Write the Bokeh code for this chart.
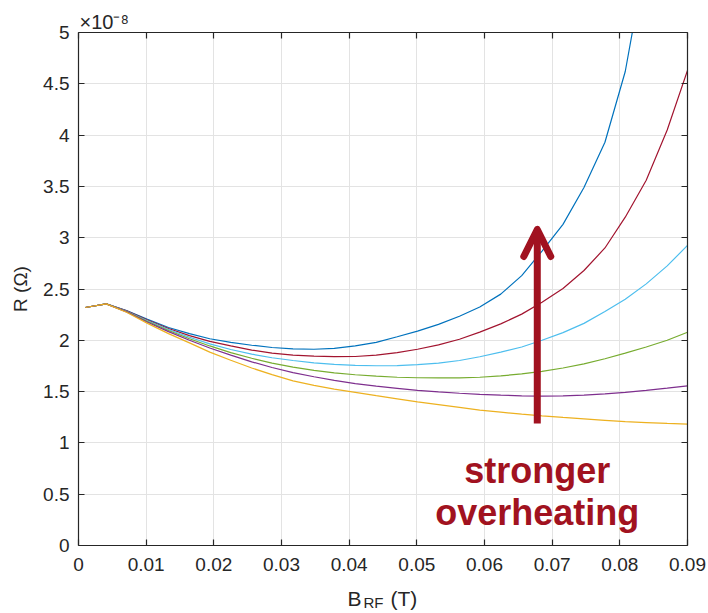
from bokeh.plotting import figure
from bokeh.layouts import column
from bokeh.models import Range1d, FixedTicker, LinearAxis, Label, Arrow, OpenHead, Title
from bokeh.core.properties import value
from bokeh.embed import file_html
from bokeh.resources import INLINE

# ---------------- data (R in units of 1e-8 Ohm) ----------------
b_rf = [0.0010, 0.0041, 0.0071, 0.0102, 0.0133, 0.0164, 0.0194, 0.0225, 0.0256, 0.0286,
        0.0317, 0.0348, 0.0378, 0.0409, 0.0440, 0.0471, 0.0501, 0.0532, 0.0563, 0.0593,
        0.0624, 0.0655, 0.0685, 0.0716, 0.0747, 0.0778, 0.0808, 0.0839, 0.0870, 0.0900]

r_blue = [2.32, 2.355, 2.29, 2.205, 2.125, 2.065, 2.015, 1.98, 1.952, 1.93,
          1.917, 1.913, 1.922, 1.945, 1.98, 2.035, 2.09, 2.155, 2.235, 2.325,
          2.45, 2.63, 2.87, 3.13, 3.49, 3.93, 4.62, 5.75, 7.0, 8.6]
r_red = [2.32, 2.355, 2.287, 2.198, 2.115, 2.045, 1.99, 1.945, 1.905, 1.875,
         1.856, 1.845, 1.84, 1.842, 1.855, 1.88, 1.913, 1.955, 2.01, 2.08,
         2.16, 2.255, 2.37, 2.505, 2.68, 2.9, 3.2, 3.56, 4.05, 4.63]
r_cyan = [2.32, 2.355, 2.283, 2.19, 2.105, 2.03, 1.965, 1.91, 1.865, 1.83,
          1.803, 1.78, 1.765, 1.756, 1.752, 1.753, 1.762, 1.778, 1.803, 1.84,
          1.885, 1.935, 2.0, 2.075, 2.165, 2.28, 2.4, 2.55, 2.725, 2.925]
r_green = [2.32, 2.355, 2.28, 2.183, 2.095, 2.015, 1.945, 1.88, 1.825, 1.778,
           1.738, 1.707, 1.682, 1.664, 1.65, 1.64, 1.635, 1.633, 1.634, 1.64,
           1.653, 1.672, 1.698, 1.73, 1.77, 1.82, 1.875, 1.935, 2.0, 2.078]
r_purple = [2.32, 2.355, 2.277, 2.176, 2.085, 2.0, 1.925, 1.855, 1.79, 1.735,
            1.685, 1.645, 1.61, 1.578, 1.553, 1.532, 1.512, 1.497, 1.484, 1.473,
            1.465, 1.459, 1.456, 1.458, 1.465, 1.477, 1.493, 1.512, 1.533, 1.555]
r_yellow = [2.32, 2.355, 2.273, 2.165, 2.065, 1.975, 1.885, 1.805, 1.73, 1.665,
            1.605, 1.56, 1.525, 1.493, 1.46, 1.43, 1.40, 1.373, 1.346, 1.32,
            1.30, 1.28, 1.263, 1.248, 1.234, 1.22, 1.207, 1.198, 1.19, 1.183]

series = [r_blue, r_red, r_cyan, r_green, r_purple, r_yellow]
colors = ["#0072BD", "#A2142F", "#4DBEEE", "#77AC30", "#7E2F8E", "#EDB120"]

x_ticks = [0, 0.01, 0.02, 0.03, 0.04, 0.05, 0.06, 0.07, 0.08, 0.09]
x_tick_labels = ["0", "0.01", "0.02", "0.03", "0.04", "0.05", "0.06", "0.07", "0.08", "0.09"]
y_ticks = [0, 0.5, 1, 1.5, 2, 2.5, 3, 3.5, 4, 4.5, 5]
y_tick_labels = ["0", "0.5", "1", "1.5", "2", "2.5", "3", "3.5", "4", "4.5", "5"]

y_label = "R (Ω)"
x_label_parts = ["B", "RF", "(T)"]          # B_RF (T)
exponent_text = "×10⁻⁸"
annotation_lines = ["stronger", "overheating"]
arrow_x = 0.0678
arrow_y0 = 1.19
arrow_y1 = 3.08

# ---------------- styles ----------------
FONT = "Liberation Sans"
AX = "#262626"
DARKRED = "#A11220"
GRID = "#E3E3E3"
W = 708
BL, BR = 78, 21
BOT_H = 25
MAIN_H = 613 - BOT_H

p = figure(width=W, height=MAIN_H, output_backend="svg", toolbar_location=None,
           x_range=Range1d(0, 0.09), y_range=Range1d(0, 5),
           min_border_left=BL, min_border_right=BR, min_border_top=32, min_border_bottom=43)
p.outline_line_color = None

for ys, c in zip(series, colors):
    p.line(b_rf, ys, line_color=c, line_width=1.2)


def style_axis(ax, ticks, labels, show_labels=True):
    ax.ticker = FixedTicker(ticks=ticks)
    ax.major_label_overrides = {t: (l if show_labels else "") for t, l in zip(ticks, labels)}
    ax.axis_line_color = AX
    ax.axis_line_width = 1.2
    ax.major_tick_line_color = AX
    ax.major_tick_line_width = 1.2
    ax.major_tick_in = 6
    ax.major_tick_out = 0
    ax.minor_tick_line_color = None
    ax.major_label_text_font = FONT
    ax.major_label_text_font_size = "19px"
    ax.major_label_text_color = AX
    if not show_labels:
        ax.major_label_standoff = 0


style_axis(p.xaxis[0], x_ticks, x_tick_labels)
p.xaxis[0].major_label_standoff = 12
style_axis(p.yaxis[0], y_ticks, y_tick_labels)
p.yaxis[0].major_label_standoff = 9
p.yaxis[0].axis_label = y_label
p.yaxis[0].axis_label_text_font = FONT
p.yaxis[0].axis_label_text_font_size = "19px"
p.yaxis[0].axis_label_text_font_style = "normal"
p.yaxis[0].axis_label_text_color = AX
p.yaxis[0].axis_label_standoff = 9

top_ax = LinearAxis()
style_axis(top_ax, x_ticks, x_tick_labels, show_labels=False)
p.add_layout(top_ax, "above")
right_ax = LinearAxis()
style_axis(right_ax, y_ticks, y_tick_labels, show_labels=False)
p.add_layout(right_ax, "right")

# exponent of the y axis, shown above its top
p.add_layout(Title(text=exponent_text, align="left", offset=1, standoff=0,
                   text_font=FONT, text_font_size="20px", text_font_style="normal",
                   text_color=AX), "above")

p.xgrid.ticker = FixedTicker(ticks=x_ticks)
p.ygrid.ticker = FixedTicker(ticks=y_ticks)
for g in (p.xgrid[0], p.ygrid[0]):
    g.grid_line_color = GRID
    g.grid_line_width = 1

# arrow and annotation
p.add_layout(Arrow(end=OpenHead(size=27, line_width=7, line_color=DARKRED, line_cap="round",
                                line_join="round"),
                   x_start=arrow_x, y_start=arrow_y0, x_end=arrow_x, y_end=arrow_y1,
                   line_width=7, line_color=DARKRED))
p.add_layout(Label(x=arrow_x, y=0.728, text=annotation_lines[0], text_font=FONT,
                   text_font_size="36px", text_font_style="bold", text_color=DARKRED,
                   text_align="center", text_baseline="alphabetic"))
p.add_layout(Label(x=arrow_x, y=0.32, text=annotation_lines[1], text_font=FONT,
                   text_font_size="36px", text_font_style="bold", text_color=DARKRED,
                   text_align="center", text_baseline="alphabetic"))

# x-axis label strip: B_RF (T); coordinates are canvas pixels
bot = figure(width=W, height=BOT_H, output_backend="svg", toolbar_location=None,
             x_range=Range1d(BL, W - BR), y_range=Range1d(BOT_H, 0),
             x_axis_location=None, y_axis_location=None,
             min_border_left=BL, min_border_right=BR, min_border_top=0, min_border_bottom=0)
bot.outline_line_color = None
bot.grid.visible = False
Y0 = 613 - BOT_H
SHIFT = 6
bot.text(x=[347], y=[604 - Y0 - SHIFT], text=[x_label_parts[0]], text_font=value(FONT),
         text_font_size="21px", text_color=AX, text_baseline="alphabetic", text_align="left")
bot.text(x=[363], y=[608 - Y0 - SHIFT], text=[x_label_parts[1]], text_font=value(FONT),
         text_font_size="15px", text_color=AX, text_baseline="alphabetic", text_align="left")
bot.text(x=[390], y=[604 - Y0 - SHIFT], text=[x_label_parts[2]], text_font=value(FONT),
         text_font_size="21px", text_color=AX, text_baseline="alphabetic", text_align="left")

layout = column(p, bot, spacing=0)

open("out.html", "w").write(file_html(layout, INLINE))
